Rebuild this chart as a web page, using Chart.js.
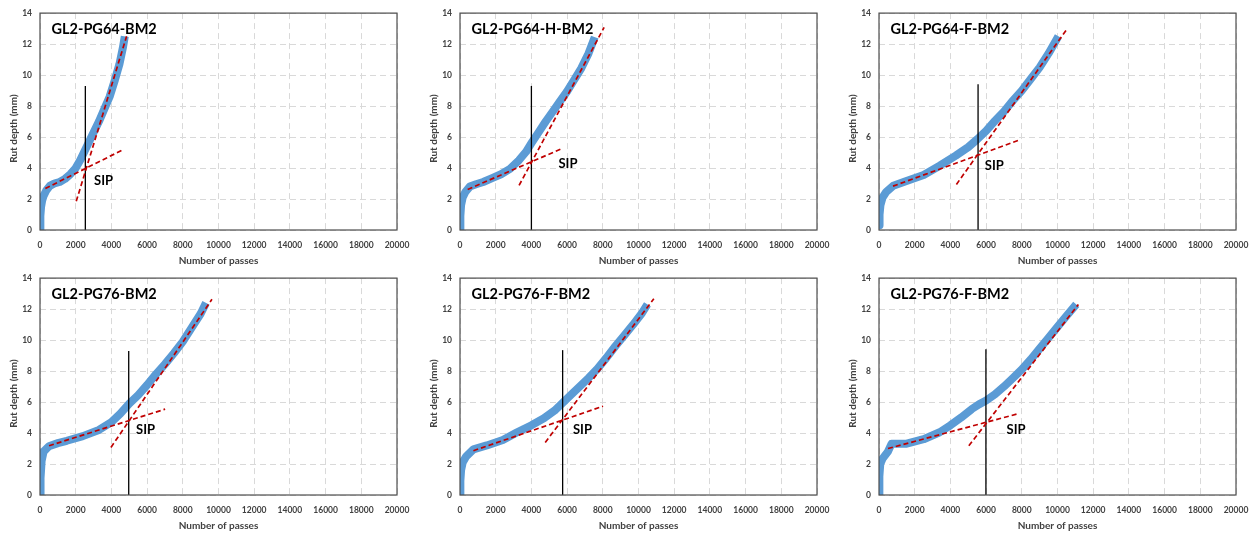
<!DOCTYPE html>
<html>
<head>
<meta charset="utf-8">
<script src="https://cdn.jsdelivr.net/npm/chart.js@4.4.1/dist/chart.umd.min.js"></script>
<style>
  html, body { margin: 0; padding: 0; background: #fff; }
  body { width: 1260px; height: 536px; position: relative; overflow: hidden; }
  canvas { position: absolute; }
</style>
</head>
<body>
<canvas id="c0" width="420" height="268" style="left:0px;top:0px"></canvas>
<canvas id="c1" width="420" height="268" style="left:420px;top:0px"></canvas>
<canvas id="c2" width="420" height="268" style="left:839px;top:0px"></canvas>
<canvas id="c3" width="420" height="268" style="left:0px;top:265px"></canvas>
<canvas id="c4" width="420" height="268" style="left:420px;top:265px"></canvas>
<canvas id="c5" width="420" height="268" style="left:839px;top:265px"></canvas>
<script>
// Axis ticks shared by every panel
const xTicks = [0, 2000, 4000, 6000, 8000, 10000, 12000, 14000, 16000, 18000, 20000];
const yTicks = [0, 2, 4, 6, 8, 10, 12, 14];

const panelNames = ['GL2-PG64-BM2', 'GL2-PG64-H-BM2', 'GL2-PG64-F-BM2',
                    'GL2-PG76-BM2', 'GL2-PG76-F-BM2', 'GL2-PG76-F-BM2'];

// Measured rut depth (mm) against number of wheel passes
const passes1 = [0, 20, 60, 120, 200, 350, 550, 800, 1100, 1400, 1700, 2000, 2250, 2500, 2750, 3000, 3300, 3600, 3900, 4200, 4450, 4650, 4750];
const rut1    = [0, 0.9, 1.5, 1.9, 2.2, 2.55, 2.85, 3.0, 3.1, 3.3, 3.6, 4.0, 4.5, 5.1, 5.7, 6.3, 7.0, 7.8, 8.6, 9.7, 10.7, 11.8, 12.5];

const passes2 = [0, 20, 60, 150, 300, 550, 900, 1300, 1800, 2300, 2800, 3300, 3700, 4000, 4400, 4800, 5200, 5600, 6000, 6400, 6800, 7200, 7550];
const rut2    = [0, 0.9, 1.6, 2.1, 2.45, 2.8, 2.95, 3.1, 3.35, 3.6, 3.95, 4.5, 5.05, 5.6, 6.3, 7.0, 7.65, 8.3, 8.95, 9.7, 10.45, 11.4, 12.45];

const passes3 = [0, 30, 80, 200, 400, 800, 1500, 2500, 3400, 4300, 5000, 5500, 6000, 6500, 7000, 7500, 8000, 8500, 9000, 9500, 10050];
const rut3    = [0.3, 1.0, 1.6, 2.1, 2.45, 2.85, 3.15, 3.55, 4.15, 4.8, 5.35, 5.85, 6.4, 7.05, 7.65, 8.35, 9.0, 9.75, 10.5, 11.4, 12.5];

const passes4 = [0, 30, 90, 200, 500, 1000, 1500, 2400, 3300, 4000, 4500, 5000, 5500, 6000, 6500, 7000, 7500, 8000, 8500, 9000, 9300];
const rut4    = [0, 1.1, 2.2, 2.8, 3.15, 3.35, 3.5, 3.8, 4.2, 4.7, 5.25, 5.9, 6.45, 7.1, 7.8, 8.45, 9.15, 9.9, 10.8, 11.7, 12.4];

const passes5 = [0, 20, 60, 150, 350, 750, 1500, 2400, 3200, 4000, 4700, 5300, 5750, 6200, 6700, 7200, 7700, 8200, 8700, 9200, 9700, 10200, 10500];
const rut5    = [0, 0.9, 1.6, 2.1, 2.5, 2.95, 3.2, 3.55, 4.05, 4.5, 4.95, 5.45, 5.95, 6.45, 7.0, 7.55, 8.15, 8.85, 9.6, 10.3, 11.0, 11.75, 12.3];

const passes6 = [0, 20, 70, 200, 500, 700, 1000, 1500, 2500, 3400, 4000, 4600, 5200, 5600, 6000, 6500, 7000, 7500, 8000, 8500, 9000, 9500, 10000, 10500, 11050];
const rut6    = [0, 1.2, 2.0, 2.35, 2.8, 3.3, 3.3, 3.3, 3.6, 4.05, 4.5, 5.0, 5.55, 5.85, 6.1, 6.5, 7.0, 7.55, 8.1, 8.75, 9.45, 10.15, 10.85, 11.55, 12.3];

// Stripping inflection point (passes) and height of its marker line (mm)
const sipPasses  = [2540, 4000, 5550, 4970, 5750, 5990];
const sipLineTop = [9.3, 9.3, 9.4, 9.3, 9.35, 9.4];

// Tangent fits: [passes start, rut start, passes end, rut end]
const creepFit = [
  [300, 2.68, 4600, 5.15],
  [430, 2.62, 5760, 5.28],
  [785, 2.83, 7790, 5.78],
  [506, 3.18, 7010, 5.54],
  [750, 2.86, 8015, 5.73],
  [505, 3.00, 7710, 5.22]
];
const strippingFit = [
  [2030, 1.85, 4850, 12.50],
  [3310, 2.88, 8075, 13.08],
  [4336, 2.94, 10505, 12.93],
  [3974, 3.07, 9634, 12.63],
  [4775, 3.39, 10860, 12.67],
  [5033, 3.18, 11170, 12.30]
];

// Where each "SIP" caption sits, in axis units
const sipCaptionAt = [[3025, 3.2], [5514, 4.27], [5925, 4.17], [5380, 4.19], [6330, 4.19], [7147, 4.19]];

const series = [[passes1, rut1], [passes2, rut2], [passes3, rut3],
                [passes4, rut4], [passes5, rut5], [passes6, rut6]];

const FONT = 'Lato, "Open Sans", "DejaVu Sans", sans-serif';
Chart.defaults.font.family = FONT;

const panelDecor = {
  id: 'panelDecor',
  afterDatasetsDraw(chart, args, opts) {
    const { ctx, chartArea: a, scales: { x, y } } = chart;
    ctx.save();
    // plot frame
    ctx.strokeStyle = '#4d4d4d';
    ctx.lineWidth = 1.2;
    ctx.strokeRect(a.left, a.top, a.right - a.left, a.bottom - a.top);
    // panel name
    ctx.fillStyle = '#000';
    ctx.textBaseline = 'middle';
    ctx.textAlign = 'left';
    ctx.font = 'bold 14.5px ' + FONT;
    ctx.fillText(opts.name, a.left + 11.5, a.top + 16);
    // SIP caption
    ctx.font = 'bold 13px ' + FONT;
    ctx.fillText('SIP', x.getPixelForValue(opts.caption[0]), y.getPixelForValue(opts.caption[1]));
    // axis titles
    ctx.fillStyle = '#404040';
    ctx.font = 'bold 10px ' + FONT;
    ctx.textAlign = 'center';
    ctx.fillText('Number of passes', (a.left + a.right) / 2, a.bottom + 31);
    ctx.translate(a.left - 26.5, (a.top + a.bottom) / 2 + 7);
    ctx.rotate(-Math.PI / 2);
    ctx.fillText('Rut depth (mm)', 0, 0);
    ctx.restore();
  }
};

function pts(xs, ys) { return xs.map((v, i) => ({ x: v, y: ys[i] })); }

series.forEach(([xs, ys], i) => {
  const c = creepFit[i], s = strippingFit[i];
  new Chart(document.getElementById('c' + i), {
    type: 'scatter',
    data: {
      datasets: [
        {
          data: [{ x: s[0], y: s[1] }, { x: s[2], y: s[3] }],
          showLine: true, borderColor: '#C00000', borderWidth: 1.7, borderDash: [5, 3],
          pointRadius: 0, order: 0
        },
        {
          data: [{ x: c[0], y: c[1] }, { x: c[2], y: c[3] }],
          showLine: true, borderColor: '#C00000', borderWidth: 1.7, borderDash: [5, 3],
          pointRadius: 0, order: 0
        },
        {
          data: [{ x: sipPasses[i], y: 0 }, { x: sipPasses[i], y: sipLineTop[i] }],
          showLine: true, borderColor: '#000', borderWidth: 1.3,
          pointRadius: 0, order: 1
        },
        {
          data: pts(xs, ys),
          showLine: true, borderColor: '#5B9BD5', borderWidth: 8,
          borderJoinStyle: 'round', borderCapStyle: 'butt',
          pointRadius: 0, order: 2, clip: 0
        }
      ]
    },
    options: {
      responsive: false,
      animation: false,
      devicePixelRatio: 1,
      layout: { padding: { left: 0, right: 23, top: 12, bottom: 0 } },
      plugins: {
        legend: { display: false },
        tooltip: { enabled: false },
        panelDecor: { name: panelNames[i], caption: sipCaptionAt[i] }
      },
      scales: {
        x: {
          type: 'linear', min: 0, max: 20000,
          afterBuildTicks: sc => { sc.ticks = xTicks.map(v => ({ value: v })); },
          afterFit: sc => { sc.height = 38; },
          ticks: {
            autoSkip: false, maxRotation: 0, padding: 10,
            color: '#404040', font: { size: 8.5, weight: 'bold' },
            callback: v => String(v)
          },
          grid: { color: '#d9d9d9', lineWidth: 1, drawTicks: false },
          border: { display: false, dash: [6, 4] }
        },
        y: {
          type: 'linear', min: 0, max: 14,
          afterBuildTicks: sc => { sc.ticks = yTicks.map(v => ({ value: v })); },
          afterFit: sc => { sc.width = 40; },
          ticks: {
            autoSkip: false, padding: 8,
            color: '#404040', font: { size: 8.5, weight: 'bold' },
            callback: v => String(v)
          },
          grid: { color: '#d9d9d9', lineWidth: 1, drawTicks: false },
          border: { display: false, dash: [6, 4] }
        }
      }
    },
    plugins: [panelDecor]
  });
});
</script>
</body>
</html>
